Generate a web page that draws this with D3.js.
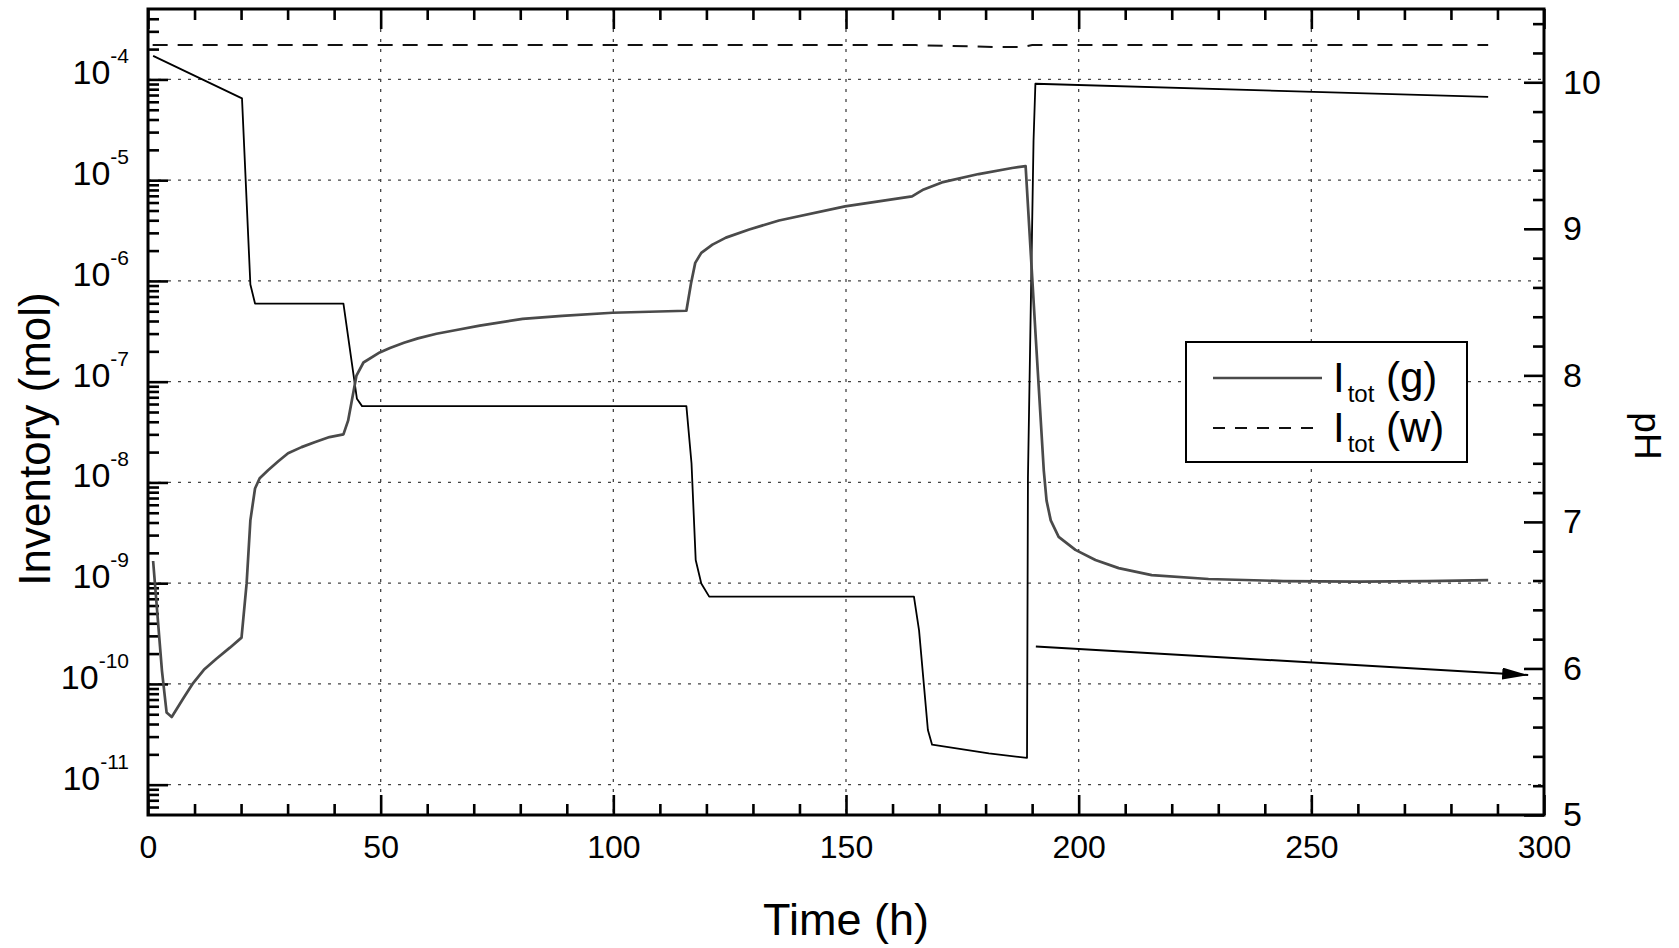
<!DOCTYPE html>
<meta charset="utf-8">
<style>
body { margin: 0; background: #fff; }
svg { display: block; font-family: "Liberation Sans", Arial, sans-serif; }
.frame { fill: none; stroke: #000; stroke-width: 3px; }
.tick line { stroke: #000; stroke-width: 2.6px; }
.axis path.domain { display: none; }
.grid line { stroke: #444; stroke-width: 1.3px; stroke-dasharray: 3,7; }
.label { fill: #000; }
</style>
<body>
<script src="https://d3js.org/d3.v7.min.js"></script>
<script>

// I_tot (g) : gas inventory (mol), gray solid, left log axis
var tGas = [1.1, 3, 4, 5.1, 7.6, 9.7, 12, 14.7, 17.6, 20.1, 21.2, 22, 23, 24, 25.8, 28, 30.1, 33, 35.8, 39, 42, 43, 44.8, 46.3, 49.8, 52, 55, 58, 62, 66, 71.3, 80.5, 89, 99.8, 115.7, 116.7, 117.6, 118.9, 121.3, 124.2, 129.2, 135.6, 149.8, 157, 164.2, 165.7, 166.7, 170.6, 178.5, 185.7, 188.6, 190.8, 192.5, 193.1, 194, 195.7, 199.3, 203.6, 208.6, 215.7, 227.9, 244, 260, 275, 288];
var invGas = [1.66e-9, 1.35e-10, 5.2e-11, 4.7e-11, 7.2e-11, 1.02e-10, 1.38e-10, 1.78e-10, 2.29e-10, 2.88e-10, 1.0e-9, 4.2e-9, 8.7e-9, 1.1e-8, 1.32e-8, 1.62e-8, 1.95e-8, 2.24e-8, 2.51e-8, 2.82e-8, 3.0e-8, 4.1e-8, 1.15e-7, 1.55e-7, 1.95e-7, 2.16e-7, 2.43e-7, 2.69e-7, 2.99e-7, 3.24e-7, 3.6e-7, 4.2e-7, 4.5e-7, 4.83e-7, 5.06e-7, 9.5e-7, 1.51e-6, 1.9e-6, 2.29e-6, 2.69e-6, 3.24e-6, 3.98e-6, 5.5e-6, 6.17e-6, 6.9e-6, 7.6e-6, 8.1e-6, 9.5e-6, 1.15e-5, 1.32e-5, 1.38e-5, 2.63e-7, 1.32e-8, 6.6e-9, 4.2e-9, 2.88e-9, 2.14e-9, 1.7e-9, 1.41e-9, 1.2e-9, 1.1e-9, 1.05e-9, 1.035e-9, 1.05e-9, 1.07e-9];

// I_tot (w) : water inventory (mol), dashed, left log axis
var tWater = [1, 165, 172, 177, 182, 188, 190, 288];
var invWater = [2.19e-4, 2.19e-4, 2.15e-4, 2.13e-4, 2.10e-4, 2.10e-4, 2.19e-4, 2.19e-4];

// pH, thin black, right axis
var tPH = [1.1, 20.2, 22, 23, 42, 44.9, 46, 115.7, 116.8, 117.7, 118.9, 120.6, 164.6, 165.7, 167.6, 168.5, 180.7, 188.9, 189.1, 190.3, 190.7, 288];
var pH = [10.18, 9.89, 8.62, 8.49, 8.49, 7.84, 7.79, 7.79, 7.40, 6.74, 6.58, 6.49, 6.49, 6.26, 5.58, 5.48, 5.42, 5.39, 7.3, 9.6, 9.99, 9.90];

// arrow pointing at the pH axis: [time, pH]
var arrowFrom = [190.8, 6.15];
var arrowTo = [296.6, 5.955];

var xMajor = [0, 50, 100, 150, 200, 250, 300];
var xMinor = d3.range(10, 300, 10).filter(function(d) { return d % 50 !== 0; });
var yDecades = [1e-11, 1e-10, 1e-9, 1e-8, 1e-7, 1e-6, 1e-5, 1e-4];
var phMajor = [5, 6, 7, 8, 9, 10];
var phMinor = d3.range(5.2, 10.5, 0.2).filter(function(d) { return Math.abs(d - Math.round(d)) > 0.01; });
var xGrid = [50, 100, 150, 200, 250];

var W = 1679, H = 948;
var pLeft = 148, pRight = 1544, pTop = 9, pBottom = 815;

var x = d3.scaleLinear().domain([0, 300]).range([pLeft, pRight]);
var yInv = d3.scaleLog().domain([5e-12, 5e-4]).range([pBottom, pTop]);
var yPH = d3.scaleLinear().domain([5, 10.5]).range([pBottom, pTop]);

var yMinor = [];
for (var e = -12; e <= -4; e++) {
  for (var m = 2; m <= 9; m++) {
    var v = m * Math.pow(10, e);
    if (v > 5e-12 && v < 5e-4) yMinor.push(v);
  }
}

var svg = d3.select("body").append("svg")
    .attr("width", W)
    .attr("height", H);

svg.append("defs").append("marker")
    .attr("id", "arrowhead")
    .attr("viewBox", "0 0 26 12")
    .attr("refX", 26).attr("refY", 6)
    .attr("markerWidth", 26).attr("markerHeight", 12)
    .attr("markerUnits", "userSpaceOnUse")
    .attr("orient", "auto")
  .append("path")
    .attr("d", "M0,0 L26,6 L0,12 Z")
    .attr("fill", "#000");

// grid
var grid = svg.append("g").attr("class", "grid");
grid.selectAll(".h").data(yDecades).enter().append("line")
    .attr("x1", pLeft).attr("x2", pRight)
    .attr("y1", function(d) { return yInv(d); })
    .attr("y2", function(d) { return yInv(d); });
grid.selectAll(".v").data(xGrid).enter().append("line")
    .attr("y1", pTop).attr("y2", pBottom)
    .attr("x1", function(d) { return x(d); })
    .attr("x2", function(d) { return x(d); });

// bottom axis
svg.append("g")
    .attr("class", "axis")
    .attr("transform", "translate(0," + pBottom + ")")
    .call(d3.axisBottom(x).tickValues(xMajor).tickSize(-20).tickPadding(20).tickFormat(d3.format("d")))
    .call(function(g) {
      g.selectAll("text").attr("font-size", 32).attr("fill", "#000").attr("font-family", null);
    });
svg.append("g")
    .attr("class", "axis")
    .attr("transform", "translate(0," + pBottom + ")")
    .call(d3.axisBottom(x).tickValues(xMinor).tickSize(-11).tickFormat(""));

// top axis
svg.append("g")
    .attr("class", "axis")
    .attr("transform", "translate(0," + pTop + ")")
    .call(d3.axisBottom(x).tickValues(xMajor).tickSize(20).tickFormat(""));
svg.append("g")
    .attr("class", "axis")
    .attr("transform", "translate(0," + pTop + ")")
    .call(d3.axisBottom(x).tickValues(xMinor).tickSize(11).tickFormat(""));

// left log axis
svg.append("g")
    .attr("class", "axis")
    .attr("transform", "translate(" + pLeft + ",0)")
    .call(d3.axisLeft(yInv).tickValues(yDecades).tickSize(-20).tickPadding(19).tickFormat(""))
    .call(function(g) {
      g.selectAll("text")
          .attr("font-size", 34)
          .attr("fill", "#000")
          .attr("dy", "0.13em")
          .attr("font-family", null)
          .each(function(d) {
            var t = d3.select(this);
            t.append("tspan").text("10");
            t.append("tspan")
                .attr("font-size", 21)
                .attr("dy", -21)
                .text(Math.round(Math.log10(d)));
          });
    });
svg.append("g")
    .attr("class", "axis")
    .attr("transform", "translate(" + pLeft + ",0)")
    .call(d3.axisLeft(yInv).tickValues(yMinor).tickSize(-11).tickFormat(""));

// right pH axis
svg.append("g")
    .attr("class", "axis")
    .attr("transform", "translate(" + pRight + ",0)")
    .call(d3.axisRight(yPH).tickValues(phMajor).tickSize(-20).tickPadding(19).tickFormat(d3.format("d")))
    .call(function(g) {
      g.selectAll("text").attr("font-size", 34).attr("fill", "#000").attr("font-family", null);
    });
svg.append("g")
    .attr("class", "axis")
    .attr("transform", "translate(" + pRight + ",0)")
    .call(d3.axisRight(yPH).tickValues(phMinor).tickSize(-11).tickFormat(""));

svg.append("rect")
    .attr("class", "frame")
    .attr("x", pLeft).attr("y", pTop)
    .attr("width", pRight - pLeft).attr("height", pBottom - pTop);

// series
var lineInv = d3.line()
    .x(function(d) { return x(d[0]); })
    .y(function(d) { return yInv(d[1]); });
var linePH = d3.line()
    .x(function(d) { return x(d[0]); })
    .y(function(d) { return yPH(d[1]); });

svg.append("path")
    .datum(d3.zip(tWater, invWater))
    .attr("d", lineInv)
    .attr("fill", "none")
    .attr("stroke", "#111")
    .attr("stroke-width", 2)
    .attr("stroke-dasharray", "15,10");

svg.append("path")
    .datum(d3.zip(tPH, pH))
    .attr("d", linePH)
    .attr("fill", "none")
    .attr("stroke", "#000")
    .attr("stroke-width", 1.8)
    .attr("stroke-linejoin", "round");

svg.append("path")
    .datum(d3.zip(tGas, invGas))
    .attr("d", lineInv)
    .attr("fill", "none")
    .attr("stroke", "#4a4a4a")
    .attr("stroke-width", 2.7)
    .attr("stroke-linejoin", "round");

svg.append("line")
    .attr("x1", x(arrowFrom[0])).attr("y1", yPH(arrowFrom[1]))
    .attr("x2", x(arrowTo[0])).attr("y2", yPH(arrowTo[1]))
    .attr("stroke", "#000")
    .attr("stroke-width", 2)
    .attr("marker-end", "url(#arrowhead)");

// legend
var lg = svg.append("g").attr("transform", "translate(1186,342)");
lg.append("rect")
    .attr("width", 281).attr("height", 120)
    .attr("fill", "#fff").attr("stroke", "#000").attr("stroke-width", 2);
var legendItems = [
  {name: "(g)", color: "#4a4a4a", width: 2.7, dash: null},
  {name: "(w)", color: "#111", width: 2, dash: "12,10"}
];
legendItems.forEach(function(item, i) {
  var yy = 36 + i * 50;
  lg.append("line")
      .attr("x1", 27).attr("x2", 136)
      .attr("y1", yy).attr("y2", yy)
      .attr("stroke", item.color)
      .attr("stroke-width", item.width)
      .attr("stroke-dasharray", item.dash);
  var t = lg.append("text")
      .attr("x", 147).attr("y", yy + 14)
      .attr("font-size", 42)
      .attr("class", "label");
  t.append("tspan").text("I");
  t.append("tspan").attr("font-size", 24).attr("dy", 10).attr("dx", 3).text("tot");
  t.append("tspan").attr("dy", -10).text(" " + item.name);
});

// axis titles
svg.append("text")
    .attr("class", "label")
    .attr("x", (pLeft + pRight) / 2)
    .attr("y", 935)
    .attr("text-anchor", "middle")
    .attr("font-size", 45)
    .text("Time (h)");

svg.append("text")
    .attr("class", "label")
    .attr("transform", "translate(50,439) rotate(-90)")
    .attr("text-anchor", "middle")
    .attr("font-size", 44)
    .text("Inventory (mol)");

svg.append("text")
    .attr("class", "label")
    .attr("transform", "translate(1635,436) rotate(90)")
    .attr("text-anchor", "middle")
    .attr("font-size", 37)
    .text("pH");

</script>
